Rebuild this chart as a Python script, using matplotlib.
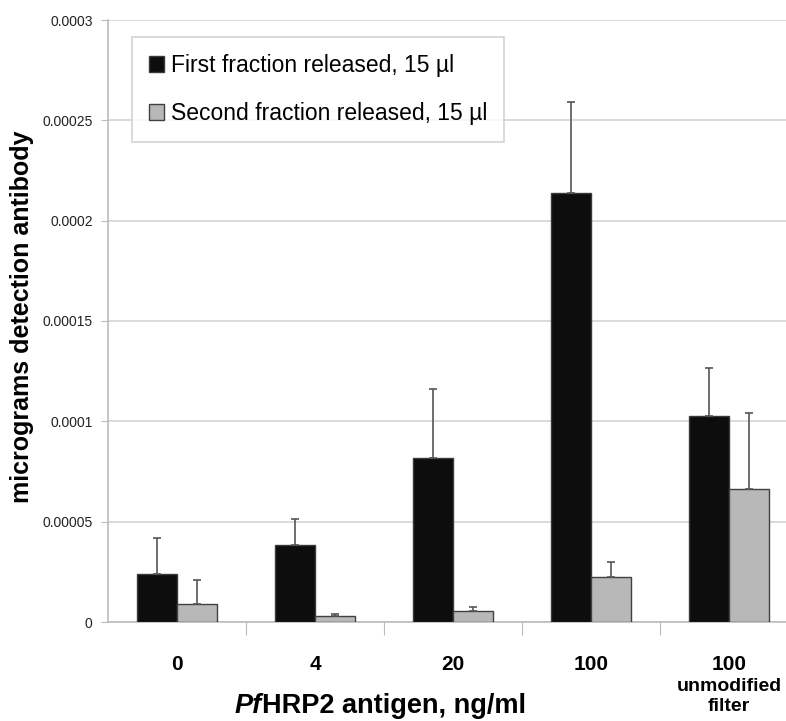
import numpy as np
import matplotlib
matplotlib.use('Agg')
import matplotlib.pyplot as plt
from matplotlib.offsetbox import TextArea, HPacker, AnnotationBbox

plt.rcParams['font.family'] = ['Liberation Sans', 'DejaVu Sans']

# data
categories = ['0', '4', '20', '100', '100']
first_vals = [0.0000239, 0.0000383, 0.0000818, 0.0002136, 0.0001026]
first_err = [0.0000179, 0.0000130, 0.0000342, 0.0000454, 0.0000240]
second_vals = [0.0000090, 0.0000030, 0.0000056, 0.0000226, 0.0000662]
second_err = [0.0000119, 0.0000011, 0.0000019, 0.0000073, 0.0000382]
y_ticks = [0, 0.00005, 0.0001, 0.00015, 0.0002, 0.00025, 0.0003]
y_labels = ['0', '0.00005', '0.0001', '0.00015', '0.0002', '0.00025', '0.0003']
series_names = ['First fraction released, 15 µl', 'Second fraction released, 15 µl']

fig = plt.figure(figsize=(7.86, 7.21), dpi=100)
ax = fig.add_axes([108 / 786, 1 - 622 / 721, 1 - 108 / 786, 602 / 721])

x = np.arange(len(categories))
w = 0.29
ebar = dict(ecolor='#555555', elinewidth=1.2, capsize=3, capthick=1.2)
b1 = ax.bar(x - w / 2, first_vals, w, color='#0d0d0d', edgecolor='#3a3a3a', lw=1,
            yerr=[np.zeros(5), first_err], error_kw=ebar, zorder=3)
b2 = ax.bar(x + w / 2, second_vals, w, color='#b8b8b8', edgecolor='#404040', lw=1,
            yerr=[np.zeros(5), second_err], error_kw=ebar, zorder=3)

ax.set_ylim(0, 0.0003)
ax.set_xlim(-0.5, -0.5 + 678 / 138)
ax.set_yticks(y_ticks)
ax.set_yticklabels(y_labels, fontsize=10, color='#222222')
ax.yaxis.grid(True, color='#d4d4d4', lw=1.2, zorder=0)
ax.set_axisbelow(True)
ax.tick_params(axis='y', length=5, color='#bbbbbb', pad=6)

# major ticks between the groups, labels on minor ticks at centres
ax.set_xticks(x[:-1] + 0.5)
ax.set_xticklabels([])
ax.tick_params(axis='x', which='major', length=9, color='#bbbbbb')
ax.set_xticks(x, minor=True)
ax.set_xticklabels(categories, minor=True, fontsize=15, fontweight='bold')
ax.tick_params(axis='x', which='minor', length=0, pad=24)
ax.text(4, -0.000028, 'unmodified\nfilter', ha='center', va='top', fontsize=14,
        fontweight='bold', linespacing=1.2, transform=ax.transData, clip_on=False)

for side in ['top', 'right']:
    ax.spines[side].set_visible(False)
ax.spines['left'].set_color('#bbbbbb')
ax.spines['bottom'].set_color('#bbbbbb')
ax.spines['left'].set_linewidth(1.2)
ax.spines['bottom'].set_linewidth(1.2)

ax.set_ylabel('micrograms detection antibody', fontsize=18, fontweight='bold')
ax.yaxis.set_label_coords(-(108 - 34) / 678, 0.5 + 4 / 602)

# x label with italic "Pf"
pf = TextArea('Pf', textprops=dict(fontsize=19.5, fontweight='bold', style='italic'))
rest = TextArea('HRP2 antigen, ng/ml', textprops=dict(fontsize=19.5, fontweight='bold'))
box = HPacker(children=[pf, rest], align='baseline', pad=0, sep=0)
ab = AnnotationBbox(box, (380 / 786, 1 - 706 / 721), xycoords='figure fraction',
                    frameon=False, box_alignment=(0.5, 0.5))
fig.add_artist(ab)

leg = ax.legend([b1, b2], series_names, loc='upper left', bbox_to_anchor=(24 / 678, 1 - 17 / 602),
                fontsize=16.5, frameon=True, fancybox=False, edgecolor='#c8c8c8',
                handlelength=0.65, handleheight=0.65, handletextpad=0.3,
                labelspacing=1.1, borderpad=0.74, borderaxespad=0)
leg.get_frame().set_linewidth(1.2)

fig.savefig('out.png', dpi=100)
